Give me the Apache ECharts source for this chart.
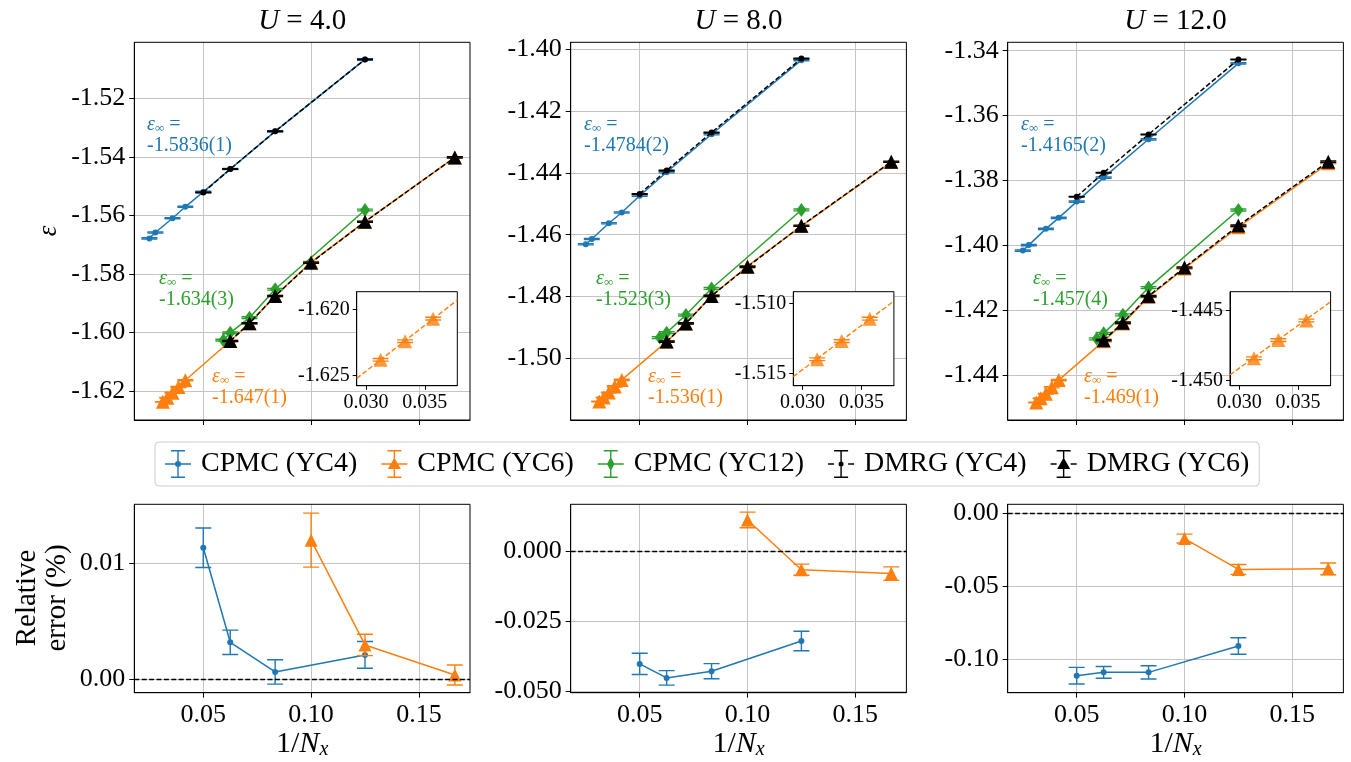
<!DOCTYPE html>
<html><head><meta charset="utf-8">
<script src="https://cdn.jsdelivr.net/npm/echarts@6.0.0/dist/echarts.min.js"></script>
<style>html,body{margin:0;padding:0;background:#fff}#c{width:1351px;height:762px}</style>
</head><body><div id="c"></div>
<script>
// ---------------- data ----------------
const U_LABELS = ['4.0', '8.0', '12.0'];
const SERIES_NAMES = ['CPMC (YC4)', 'CPMC (YC6)', 'CPMC (YC12)', 'DMRG (YC4)', 'DMRG (YC6)'];

const X_YC4 = [0.025, 0.02778, 0.03571, 0.04167, 0.05, 0.0625, 0.08333, 0.125];
const E_CPMC_YC4 = [
  [-1.5679, -1.5659, -1.5610, -1.5571, -1.5520, -1.5442, -1.5313, -1.5067],
  [-1.4631, -1.4614, -1.4563, -1.4528, -1.4474, -1.4398, -1.4275, -1.4035],
  [-1.4016, -1.3999, -1.3949, -1.3915, -1.3865, -1.3791, -1.3673, -1.3439]];
const ERR_CPMC_YC4 = [
  [0.0002, 0.0002, 0.0002, 0.0002, 0.0002, 0.0002, 0.0002, 0.0002],
  [0.0002, 0.0002, 0.0002, 0.0002, 0.0002, 0.0002, 0.0002, 0.0002],
  [0.0002, 0.0002, 0.0002, 0.0002, 0.0002, 0.0002, 0.0002, 0.0002]];

const X_YC6 = [0.03125, 0.03333, 0.03571, 0.03846, 0.04167, 0.0625, 0.07143, 0.08333, 0.1, 0.125, 0.16667];
const E_CPMC_YC6 = [
  [-1.6238, -1.6224, -1.6207, -1.6187, -1.6164, -1.6030, -1.5969, -1.5876, -1.5760, -1.5622, -1.5402],
  [-1.5140, -1.5127, -1.5111, -1.5091, -1.5070, -1.4946, -1.4887, -1.4798, -1.4702, -1.4572, -1.4365],
  [-1.4484, -1.4471, -1.4457, -1.4437, -1.4415, -1.4295, -1.4241, -1.4159, -1.4071, -1.3944, -1.3747]];
const ERR_CPMC_YC6 = [
  [0.0001, 0.0001, 0.0001, 0.0002, 0.0002, 0.0002, 0.0002, 0.0002, 0.0002, 0.0001, 0.0001],
  [0.0001, 0.0001, 0.0001, 0.0002, 0.0002, 0.0002, 0.0002, 0.0002, 0.0002, 0.0001, 0.0001],
  [0.0001, 0.0001, 0.0001, 0.0002, 0.0002, 0.0002, 0.0002, 0.0002, 0.0002, 0.0001, 0.0001]];

const X_YC12 = [0.0593, 0.0625, 0.07143, 0.08333, 0.125];
const E_CPMC_YC12 = [
  [-1.6027, -1.6002, -1.5950, -1.5853, -1.5582],
  [-1.4933, -1.4917, -1.4860, -1.4774, -1.4520],
  [-1.4288, -1.4271, -1.4214, -1.4130, -1.3891]];
const ERR_CPMC_YC12 = [
  [0.0003, 0.0003, 0.0003, 0.0003, 0.0003],
  [0.0003, 0.0003, 0.0003, 0.0003, 0.0003],
  [0.0003, 0.0003, 0.0003, 0.0003, 0.0003]];

const X_DMRG_YC4 = [0.05, 0.0625, 0.08333, 0.125];
const E_DMRG_YC4 = [
  [-1.5522, -1.5442, -1.5313, -1.5067],
  [-1.4468, -1.4392, -1.4269, -1.4030],
  [-1.3850, -1.3776, -1.3658, -1.3427]];
const ERR_DMRG_YC4 = [
  [0.0001, 0.0001, 0.0001, 0.0001],
  [0.0001, 0.0001, 0.0001, 0.0001],
  [0.0001, 0.0001, 0.0001, 0.0001]];

const X_DMRG_YC6 = [0.0625, 0.07143, 0.08333, 0.1, 0.125, 0.16667];
const E_DMRG_YC6 = [
  [-1.6030, -1.5969, -1.5876, -1.5762, -1.5622, -1.5402],
  [-1.4946, -1.4887, -1.4798, -1.4704, -1.4571, -1.4364],
  [-1.4292, -1.4238, -1.4156, -1.4068, -1.3939, -1.3742]];
const ERR_DMRG_YC6 = [
  [0.0002, 0.0002, 0.0002, 0.0002, 0.0002, 0.0002],
  [0.0002, 0.0002, 0.0002, 0.0002, 0.0002, 0.0002],
  [0.0002, 0.0002, 0.0002, 0.0002, 0.0002, 0.0002]];

// linear fit of CPMC (YC6) shown in the insets (end points)
const FIT_X = [0.02922, 0.03776];
const FIT_E = [[-1.6252, -1.6193], [-1.51524, -1.50984], [-1.44959, -1.44436]];
const INSET_N = 3; // the insets show the three longest YC6 systems

// extrapolated energies
const EINF_YC4 = ['-1.5836(1)', '-1.4784(2)', '-1.4165(2)'];
const EINF_YC12 = ['-1.634(3)', '-1.523(3)', '-1.457(4)'];
const EINF_YC6 = ['-1.647(1)', '-1.536(1)', '-1.469(1)'];

// relative error (%) CPMC vs DMRG
const REL_X_YC4 = [0.05, 0.0625, 0.08333, 0.125];
const REL_YC4 = [
  [0.01134, 0.00319, 0.00063, 0.0021],
  [-0.0403, -0.0453, -0.0429, -0.0321],
  [-0.1112, -0.1089, -0.1089, -0.0909]];
const REL_ERR_YC4 = [
  [0.0017, 0.00105, 0.00105, 0.00115],
  [0.0038, 0.0026, 0.0027, 0.0035],
  [0.0057, 0.0040, 0.0045, 0.0056]];
const REL_X_YC6 = [0.1, 0.125, 0.16667];
const REL_YC6 = [
  [0.0120, 0.00296, 0.00037],
  [0.0112, -0.0066, -0.0080],
  [-0.0175, -0.0386, -0.0382]];
const REL_ERR_YC6 = [
  [0.00233, 0.00092, 0.00086],
  [0.0028, 0.0020, 0.0024],
  [0.0030, 0.0034, 0.0040]];

// axis ranges / tick labels
const X_RANGE = [0.0180, 0.1737];
const X_TICKS = [0.05, 0.10, 0.15];
const TOP_Y_RANGE = [[-1.6300, -1.50085], [-1.51997, -1.39773], [-1.4538, -1.33741]];
const TOP_Y_TICKS = [
  [-1.62, -1.60, -1.58, -1.56, -1.54, -1.52],
  [-1.50, -1.48, -1.46, -1.44, -1.42, -1.40],
  [-1.44, -1.42, -1.40, -1.38, -1.36, -1.34]];
const BOT_Y_RANGE = [[-0.00116, 0.01509], [-0.0506, 0.0168], [-0.1228, 0.0059]];
const BOT_Y_TICKS = [[0.00, 0.01], [-0.050, -0.025, 0.000], [-0.10, -0.05, 0.00]];
const BOT_Y_DEC = [2, 3, 2];
const INSET_X_RANGE = [0.02922, 0.03776];
const INSET_X_TICKS = [0.030, 0.035];
const INSET_Y_RANGE = [[-1.62575, -1.61867], [-1.51589, -1.50917], [-1.45036, -1.44364]];
const INSET_Y_TICKS = [[-1.625, -1.620], [-1.515, -1.510], [-1.450, -1.445]];

// ---------------- style / layout ----------------
const FONT = 'Liberation Serif';
const COL = {blue: '#1f77b4', orange: '#ff7f0e', green: '#2ca02c', black: '#000000'};
const PANEL_LEFT = [134.3, 570.7, 1007.7];
const PANEL_W = 335.7;
const TOP_T = 42.3, TOP_H = 377.7;
const BOT_T = 504.3, BOT_H = 188.4;
const INSET_LEFT = [356.7, 793.3, 1230];
const INSET_T = 291.7, INSET_W = 100.6, INSET_H = 94;
const GRID_COL = '#c4c4c4';
const TICK_FS = 26;

const grids = [], xAxes = [], yAxes = [], series = [];

function zip(xs, ys) { return xs.map((x, i) => [x, ys[i]]); }
function zip3(xs, ys, es) { return xs.map((x, i) => [x, ys[i], es[i]]); }

function errRender(color, cap, lw) {
  return function (params, api) {
    const x = api.value(0), y = api.value(1), e = api.value(2);
    const a = api.coord([x, y - e]), b = api.coord([x, y + e]);
    const st = {stroke: color, lineWidth: lw};
    return {type: 'group', children: [
      {type: 'line', shape: {x1: a[0], y1: a[1], x2: b[0], y2: b[1]}, style: st},
      {type: 'line', shape: {x1: a[0] - cap, y1: a[1], x2: a[0] + cap, y2: a[1]}, style: st},
      {type: 'line', shape: {x1: b[0] - cap, y1: b[1], x2: b[0] + cap, y2: b[1]}, style: st}
    ]};
  };
}

function addLine(name, ax, xs, ys, color, symbol, size, dashed, z) {
  series.push({
    type: 'line', name, xAxisIndex: ax, yAxisIndex: ax, data: zip(xs, ys),
    symbol, symbolSize: size, showSymbol: true, showAllSymbol: true,
    itemStyle: {color}, lineStyle: {color, width: 1.5, type: dashed ? [5, 2.4] : 'solid'},
    z, silent: true, animation: false, clip: true
  });
}
function addErr(name, ax, xs, ys, es, color, cap, z) {
  series.push({
    type: 'custom', name, xAxisIndex: ax, yAxisIndex: ax, data: zip3(xs, ys, es),
    encode: {x: 0, y: 1}, renderItem: errRender(color, cap, 1.4),
    z, silent: true, animation: false, clip: true
  });
}

function valueAxis(gi, range, ticks, fmtDec, fs, o) {
  const tick = Math.abs(ticks[1] - ticks[0]);
  return Object.assign({
    type: 'value', gridIndex: gi, min: range[0], max: range[1],
    minInterval: tick, maxInterval: tick,
    axisLine: {show: true, onZero: false, lineStyle: {color: '#000', width: 1}},
    axisTick: {show: true, inside: false, length: 5, customValues: ticks, lineStyle: {color: '#000', width: 1}},
    splitLine: {show: true, customValues: ticks, lineStyle: {color: GRID_COL, width: 1}},
    axisLabel: {show: fmtDec !== null, customValues: ticks, color: '#000', fontFamily: FONT, fontSize: fs, margin: 9,
      formatter: v => (fmtDec === null ? '' : v.toFixed(fmtDec))},
    z: 0
  }, o || {});
}

for (let p = 0; p < 3; p++) {
  // ---- top panel ----
  const gi = grids.length;
  grids.push({left: PANEL_LEFT[p], top: TOP_T, width: PANEL_W, height: TOP_H, show: true,
    borderColor: '#000', borderWidth: 1, backgroundColor: 'transparent', z: 1, containLabel: false});
  xAxes.push(valueAxis(gi, X_RANGE, X_TICKS, null, TICK_FS));
  yAxes.push(valueAxis(gi, TOP_Y_RANGE[p], TOP_Y_TICKS[p], 2, TICK_FS));
  addLine(SERIES_NAMES[0], gi, X_YC4, E_CPMC_YC4[p], COL.blue, 'circle', 6, false, 2);
  addErr(SERIES_NAMES[0], gi, X_YC4, E_CPMC_YC4[p], ERR_CPMC_YC4[p], COL.blue, 8, 2);
  addLine(SERIES_NAMES[1], gi, X_YC6, E_CPMC_YC6[p], COL.orange, 'triangle', 14, false, 3);
  addErr(SERIES_NAMES[1], gi, X_YC6, E_CPMC_YC6[p], ERR_CPMC_YC6[p], COL.orange, 8, 3);
  addLine(SERIES_NAMES[2], gi, X_YC12, E_CPMC_YC12[p], COL.green, 'diamond', [10, 14], false, 4);
  addErr(SERIES_NAMES[2], gi, X_YC12, E_CPMC_YC12[p], ERR_CPMC_YC12[p], COL.green, 8, 4);
  addLine(SERIES_NAMES[3], gi, X_DMRG_YC4, E_DMRG_YC4[p], COL.black, 'circle', 6, true, 5);
  addErr(SERIES_NAMES[3], gi, X_DMRG_YC4, E_DMRG_YC4[p], ERR_DMRG_YC4[p], COL.black, 8, 5);
  addLine(SERIES_NAMES[4], gi, X_DMRG_YC6, E_DMRG_YC6[p], COL.black, 'triangle', 14, true, 6);
  addErr(SERIES_NAMES[4], gi, X_DMRG_YC6, E_DMRG_YC6[p], ERR_DMRG_YC6[p], COL.black, 8, 6);
}
for (let p = 0; p < 3; p++) {
  // ---- bottom panel ----
  const gi = grids.length;
  grids.push({left: PANEL_LEFT[p], top: BOT_T, width: PANEL_W, height: BOT_H, show: true,
    borderColor: '#000', borderWidth: 1, backgroundColor: 'transparent', z: 1, containLabel: false});
  xAxes.push(valueAxis(gi, X_RANGE, X_TICKS, 2, TICK_FS));
  yAxes.push(valueAxis(gi, BOT_Y_RANGE[p], BOT_Y_TICKS[p], BOT_Y_DEC[p], TICK_FS));
  series.push({
    type: 'line', name: 'zero', xAxisIndex: gi, yAxisIndex: gi, data: [], z: 2, silent: true, animation: false,
    markLine: {silent: true, symbol: 'none', label: {show: false}, animation: false,
      lineStyle: {color: '#000', width: 1.3, type: [5, 2.4]}, data: [{yAxis: 0}]}
  });
  addLine(SERIES_NAMES[0], gi, REL_X_YC4, REL_YC4[p], COL.blue, 'circle', 6, false, 3);
  addErr(SERIES_NAMES[0], gi, REL_X_YC4, REL_YC4[p], REL_ERR_YC4[p], COL.blue, 8, 3);
  addLine(SERIES_NAMES[1], gi, REL_X_YC6, REL_YC6[p], COL.orange, 'triangle', 13, false, 4);
  addErr(SERIES_NAMES[1], gi, REL_X_YC6, REL_YC6[p], REL_ERR_YC6[p], COL.orange, 8, 4);
}
for (let p = 0; p < 3; p++) {
  // ---- inset ----
  const gi = grids.length;
  grids.push({left: INSET_LEFT[p], top: INSET_T, width: INSET_W, height: INSET_H, show: true,
    borderColor: '#000', borderWidth: 1, backgroundColor: '#ffffff', z: 3, containLabel: false});
  const extra = {splitLine: {show: false}, z: 4};
  const xa = valueAxis(gi, INSET_X_RANGE, INSET_X_TICKS, 3, 20, extra);
  const ya = valueAxis(gi, INSET_Y_RANGE[p], INSET_Y_TICKS[p], 3, 20, extra);
  xa.axisTick.length = 4; ya.axisTick.length = 4;
  xa.axisLabel.margin = 7; ya.axisLabel.margin = 7;
  xAxes.push(xa); yAxes.push(ya);
  series.push({
    type: 'line', name: 'fit', xAxisIndex: gi, yAxisIndex: gi, data: zip(FIT_X, FIT_E[p]), symbol: 'none',
    lineStyle: {color: COL.orange, width: 1.4, type: [5, 2.4]}, z: 5, silent: true, animation: false, clip: true
  });
  const xi = X_YC6.slice(0, INSET_N), yi = E_CPMC_YC6[p].slice(0, INSET_N), ei = ERR_CPMC_YC6[p].slice(0, INSET_N);
  series.push({
    type: 'scatter', name: SERIES_NAMES[1] + ' inset', xAxisIndex: gi, yAxisIndex: gi, data: zip(xi, yi),
    symbol: 'triangle', symbolSize: 14, itemStyle: {color: COL.orange}, z: 6, silent: true, animation: false
  });
  addErr('inset err', gi, xi, yi, ei, COL.orange, 8, 6);
}

// ---------------- legend icons ----------------
const H = 'M0,13.3h26v1.4h-26z ';
const HD = 'M0,13.3h6v1.4h-6z M20,13.3h6v1.4h-6z ';
const V = 'M12.3,0.7h1.4v26.6h-1.4z ';
const CAPS = 'M6,0h14v1.4h-14z M6,26.6h14v1.4h-14z ';
const CIRC = 'M16,14A3,3 0 1,1 10,14A3,3 0 1,1 16,14z';
const CIRC_S = 'M15.5,14A2.5,2.5 0 1,1 10.5,14A2.5,2.5 0 1,1 15.5,14z';
const TRI = 'M13,7.5L19.5,19L6.5,19z';
const DIA = 'M13,7L16.8,14L13,21L9.2,14z';
const ICONS = [
  'path://' + H + V + CAPS + CIRC,
  'path://' + H + V + CAPS + TRI,
  'path://' + H + V + CAPS + DIA,
  'path://' + HD + V + CAPS + CIRC_S,
  'path://' + HD + V + CAPS + TRI
];

// ---------------- text ----------------
const graphics = [];
const RICH_EINF = {e: {fontFamily: FONT, fontStyle: 'italic', fontSize: 20, lineHeight: 21},
  s: {fontFamily: FONT, fontSize: 13, lineHeight: 13, verticalAlign: 'bottom'},
  n: {fontFamily: FONT, fontSize: 20, lineHeight: 21}};
function einf(x, y, val, color) {
  graphics.push({type: 'text', x, y, silent: true, z: 10, style: {
    text: '{e|ε}{s|∞}{n| =}\n{n|' + val + '}', fill: color, fontFamily: FONT, fontSize: 20, lineHeight: 21,
    rich: RICH_EINF, align: 'left', verticalAlign: 'top'}});
}
const BLUE_X = [147, 584, 1021], GREEN_X = [159, 596, 1033], ORANGE_X = [212, 648, 1084];
for (let p = 0; p < 3; p++) {
  const cx = PANEL_LEFT[p] + PANEL_W / 2;
  graphics.push({type: 'text', x: cx, y: 21, silent: true, style: {
    text: '{i|U} = ' + U_LABELS[p], fill: '#000', fontFamily: FONT, fontSize: 29, align: 'center', verticalAlign: 'middle',
    rich: {i: {fontFamily: FONT, fontStyle: 'italic', fontSize: 29}}}});
  graphics.push({type: 'text', x: cx, y: 744, silent: true, style: {
    text: '1/{i|N}{s|x}', fill: '#000', fontFamily: FONT, fontSize: 30, align: 'center', verticalAlign: 'middle',
    rich: {i: {fontFamily: FONT, fontStyle: 'italic', fontSize: 30, lineHeight: 32},
           s: {fontFamily: FONT, fontStyle: 'italic', fontSize: 20, lineHeight: 20, verticalAlign: 'bottom'}}}});
  einf(BLUE_X[p], 114.5, EINF_YC4[p], COL.blue);
  einf(GREEN_X[p], 268.5, EINF_YC12[p], COL.green);
  einf(ORANGE_X[p], 366.5, EINF_YC6[p], COL.orange);
}
graphics.push({type: 'text', x: 49, y: 231, rotation: Math.PI / 2, silent: true, style: {
  text: 'ε', fill: '#000', fontFamily: FONT, fontStyle: 'italic', fontSize: 27, align: 'center', verticalAlign: 'middle'}});
graphics.push({type: 'text', x: 42, y: 598, rotation: Math.PI / 2, silent: true, style: {
  text: 'Relative\nerror (%)', fill: '#000', fontFamily: FONT, fontSize: 29, lineHeight: 30, align: 'center', verticalAlign: 'middle'}});

const option = {
  animation: false,
  backgroundColor: '#ffffff',
  grid: grids, xAxis: xAxes, yAxis: yAxes, series,
  legend: {
    left: 155, top: 442, orient: 'horizontal', itemWidth: 26, itemHeight: 28, itemGap: 24,
    padding: [8, 10], borderColor: '#cccccc', borderWidth: 1, borderRadius: 4, backgroundColor: '#fff',
    selectedMode: false, itemStyle: {borderWidth: 0},
    textStyle: {fontFamily: FONT, fontSize: 28, color: '#000', padding: [0, 0, 0, 5]},
    data: SERIES_NAMES.map((n, i) => ({name: n, icon: ICONS[i]}))
  },
  graphic: graphics
};
const chart = echarts.init(document.getElementById('c'), null, {renderer: 'canvas'});
chart.setOption(option);
</script>
</body></html>
